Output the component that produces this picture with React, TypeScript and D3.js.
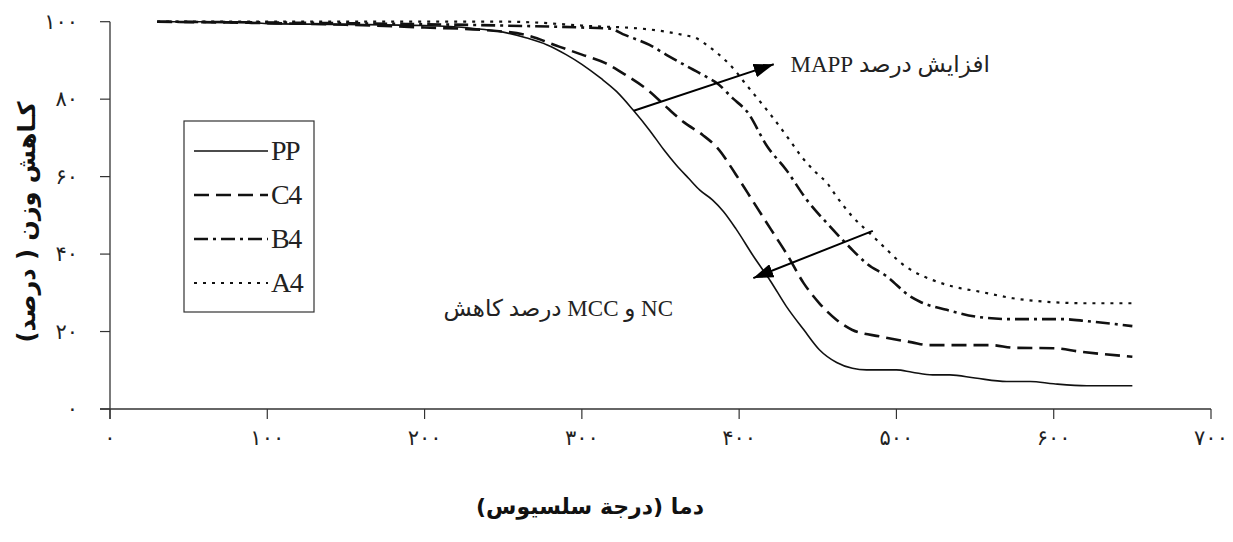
import * as d3 from 'd3';

// temperature (°C) / weight (%)
const ppTemp = [30, 80, 100, 150, 200, 230, 250, 265, 278, 290, 300, 312, 322, 333, 343, 352, 360, 368, 375, 383, 390, 398, 409, 420, 430, 441, 451, 462, 472, 481, 500, 510, 523, 534, 550, 570, 585, 600, 621, 650];
const ppLoss = [100, 100, 99.5, 99.3, 99, 98.3, 97.3, 95.8, 94, 91.5, 89, 85.4, 82, 77, 72, 67, 63, 59.5, 56.5, 54, 51, 46.5, 39.5, 33, 26.5, 20.5, 15.3, 12, 10.5, 10.1, 10.1, 9.5, 8.8, 8.8, 8, 7.1, 7.1, 6.5, 6, 6];

const c4Temp = [30, 90, 150, 200, 240, 265, 286, 300, 315, 328, 343, 355, 365, 377, 386, 398, 409, 420, 430, 441, 451, 462, 472, 490, 510, 520, 560, 575, 600, 617, 650];
const c4Loss = [100, 99.7, 99.2, 98.5, 97.8, 96.5, 93.5, 91.5, 89.3, 86.2, 82, 77.5, 74, 70.7, 67.5, 60.5, 53.5, 46.5, 40.2, 32.5, 27.3, 23, 20.4, 18.7, 17.2, 16.5, 16.5, 15.8, 15.7, 14.8, 13.5];

const b4Temp = [30, 150, 250, 300, 318, 326, 343, 354, 369, 379, 386, 396, 405, 418, 430, 443, 456, 470, 481, 494, 509, 515, 532, 553, 574, 606, 621, 650];
const b4Loss = [100, 99.6, 99, 98.5, 98.2, 96.8, 94, 91.4, 88, 85.8, 84.1, 80.2, 76.8, 67.7, 61.7, 54, 47.9, 41.9, 37.6, 34.2, 29, 27.7, 25.6, 23.7, 23.2, 23.2, 22.7, 21.4];

const a4Temp = [30, 150, 250, 270, 300, 343, 364, 373, 381, 390, 398, 403, 408, 420, 432, 440, 449, 456, 462, 472, 483, 494, 502, 511, 523, 536, 553, 574, 595, 620, 650];
const a4Loss = [100, 100, 100, 99.8, 99, 98, 96.6, 95.7, 93.5, 90.5, 87.1, 84.5, 82, 76, 69.5, 65, 61, 58.3, 54.8, 49.7, 45.4, 41.1, 38, 35.5, 33.3, 31.6, 30.3, 28.6, 27.7, 27.3, 27.3];

const seriesNames = ['PP', 'C4', 'B4', 'A4'];
const xTicks = [0, 100, 200, 300, 400, 500, 600, 700];
const yTicks = [0, 20, 40, 60, 80, 100];

// annotation arrows in data units: [fromT, fromV, toT, toV]
const upArrow = [333, 77, 422, 89];
const downArrow = [485, 46, 409, 33.8];

const yTitle = 'کـاهش وزن ( درصد)';
const xTitle = 'دما (درجة سلسیوس)';
const upNote = 'افزایش درصد MAPP';
// written in reverse word order so the rtl layout shows it as in the picture
const downNote = 'NC و MCC درصد کاهش';

const W = 1233;
const H = 542;

const styles = [
  { width: 1.6, dash: 'none' },
  { width: 2.6, dash: '15,7' },
  { width: 2.6, dash: '14,5,3,5' },
  { width: 2.2, dash: '3,6' },
];

const persian = (n: number) =>
  String(n).replace(/\d/g, (d) => '۰۱۲۳۴۵۶۷۸۹'[+d]);

export default function App() {
  const x = d3.scaleLinear().domain([0, 700]).range([110, 1211]);
  const y = d3.scaleLinear().domain([0, 100]).range([409, 21.7]);

  const line = d3
    .line<[number, number]>()
    .x((d) => x(d[0]))
    .y((d) => y(d[1]))
    .curve(d3.curveMonotoneX);

  const series = [
    d3.zip(ppTemp, ppLoss),
    d3.zip(c4Temp, c4Loss),
    d3.zip(b4Temp, b4Loss),
    d3.zip(a4Temp, a4Loss),
  ] as [number, number][][];

  const serif = '"Liberation Serif", "DejaVu Sans", serif';
  const sans = '"DejaVu Sans", sans-serif';
  const axisColor = '#333';

  const legendX = 184;
  const legendY = 121;

  return (
    <svg
      width={W}
      height={H}
      style={{ position: 'absolute', left: 0, top: 0, background: '#fff' }}
    >
      <defs>
        <marker
          id='head'
          viewBox='0 0 20 14'
          refX='20'
          refY='7'
          markerWidth='20'
          markerHeight='14'
          markerUnits='userSpaceOnUse'
          orient='auto'
        >
          <path d='M0,0 L20,7 L0,14 z' fill='#000' />
        </marker>
      </defs>

      {/* axes */}
      <line x1={x(0)} x2={x(0)} y1={y(100)} y2={y(0) + 10} stroke={axisColor} strokeWidth={1.3} />
      <line x1={x(0) - 10} x2={x(700)} y1={y(0)} y2={y(0)} stroke={axisColor} strokeWidth={1.3} />
      {yTicks.map((t) => (
        <g key={'y' + t}>
          <line x1={x(0) - 10} x2={x(0)} y1={y(t)} y2={y(t)} stroke={axisColor} strokeWidth={1.2} />
          <text x={78} y={y(t) + 7} textAnchor='end' fontFamily={sans} fontSize={21} fill='#222'>
            {persian(t)}
          </text>
        </g>
      ))}
      {xTicks.map((t) => (
        <g key={'x' + t}>
          <line x1={x(t)} x2={x(t)} y1={y(0)} y2={y(0) + 10} stroke={axisColor} strokeWidth={1.2} />
          <text x={x(t)} y={445} textAnchor='middle' fontFamily={sans} fontSize={21} fill='#222'>
            {persian(t)}
          </text>
        </g>
      ))}

      {/* titles */}
      <text
        transform={`translate(35, 222) rotate(-90)`}
        textAnchor='middle'
        direction='rtl'
        fontFamily={sans}
        fontWeight='bold'
        fontSize={24}
        fill='#111'
      >
        {yTitle}
      </text>
      <text
        x={590}
        y={514}
        textAnchor='middle'
        direction='rtl'
        fontFamily={sans}
        fontWeight='bold'
        fontSize={22}
        fill='#111'
      >
        {xTitle}
      </text>

      {/* curves */}
      {series.map((s, i) => (
        <path
          key={seriesNames[i]}
          d={line(s) ?? ''}
          fill='none'
          stroke='#111'
          strokeWidth={styles[i].width}
          strokeDasharray={styles[i].dash}
        />
      ))}

      {/* arrows */}
      {[upArrow, downArrow].map((a, i) => (
        <line
          key={'a' + i}
          x1={x(a[0])}
          y1={y(a[1])}
          x2={x(a[2])}
          y2={y(a[3])}
          stroke='#000'
          strokeWidth={2}
          markerEnd='url(#head)'
        />
      ))}
      <text x={x(496)} y={y(87)} textAnchor='middle' direction='rtl' fontFamily={serif} fontSize={23} fill='#222'>
        {upNote}
      </text>
      <text x={x(285)} y={y(24)} textAnchor='middle' direction='rtl' fontFamily={serif} fontSize={23} fill='#222'>
        {downNote}
      </text>

      {/* legend */}
      <rect x={legendX} y={legendY} width={130} height={191} fill='#fff' stroke='#333' strokeWidth={1.2} />
      {seriesNames.map((n, i) => {
        const ly = legendY + 30 + i * 44;
        return (
          <g key={'l' + n}>
            <line
              x1={legendX + 10}
              x2={legendX + 84}
              y1={ly}
              y2={ly}
              stroke='#111'
              strokeWidth={styles[i].width}
              strokeDasharray={styles[i].dash}
            />
            <text x={legendX + 87} y={ly + 9} fontFamily={serif} fontSize={28} fill='#222' letterSpacing={-1.5}>
              {n}
            </text>
          </g>
        );
      })}
    </svg>
  );
}
